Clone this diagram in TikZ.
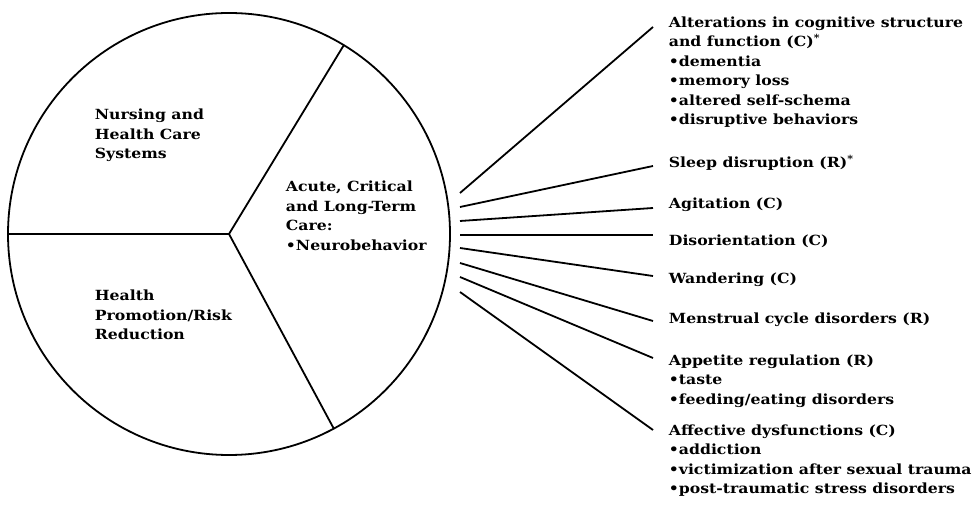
\documentclass[tikz,border=0pt]{standalone}
\usepackage{fontspec}
\setmainfont{DejaVu Serif}[FakeStretch=1.12]
\begin{document}
\begin{tikzpicture}[x=1pt,y=-1pt,line width=1.8pt,
	txt/.style={anchor=north west,align=left,inner sep=0pt,font=\bfseries\fontsize{14}{19.5}\selectfont}]

		\useasboundingbox (0,0) rectangle (975,510);

		\coordinate (c) at (229,234);
		\draw (c) circle (221pt);
		\draw (c) -- ++(180:221pt);
		\draw (c) -- ++(58.7:221pt);
		\draw (c) -- ++(-61.7:221pt);

		\node (nurs) [txt] at (94,108) {Nursing and\\Health Care\\Systems};
		\node (acute) [txt] at (285,180) {Acute, Critical\\and Long-Term\\Care:\\•Neurobehavior};
		\node (prom) [txt] at (94,289) {Health\\Promotion/Risk\\Reduction};

		\node (alt) [txt] at (668,15.5) {Alterations in cognitive structure\\and function (C)\textsuperscript{*}\\•dementia\\•memory loss\\•altered self-schema\\•disruptive behaviors};
		\node (sleep) [txt] at (668,154.5) {Sleep disruption (R)\textsuperscript{*}};
		\node (agit) [txt] at (668,196.5) {Agitation (C)};
		\node (disor) [txt] at (668,233.5) {Disorientation (C)};
		\node (wand) [txt] at (668,271.5) {Wandering (C)};
		\node (menst) [txt] at (668,311.5) {Menstrual cycle disorders (R)};
		\node (appet) [txt] at (668,353.5) {Appetite regulation (R)\\•taste\\•feeding/eating disorders};
		\node (affect) [txt] at (668,423.5) {Affective dysfunctions (C)\\•addiction\\•victimization after sexual trauma\\•post-traumatic stress disorders};

		% fan of lines out of the circle
		\coordinate (s1) at (460,193);
		\coordinate (s2) at (460,207);
		\coordinate (s3) at (460,221);
		\coordinate (s4) at (460,235);
		\coordinate (s5) at (460,248);
		\coordinate (s6) at (460,263);
		\coordinate (s7) at (460,277);
		\coordinate (s8) at (460,292);
		\coordinate (e1) at (653,27);
		\coordinate (e2) at (653,166);
		\coordinate (e3) at (653,208);
		\coordinate (e4) at (653,235);
		\coordinate (e5) at (653,276);
		\coordinate (e6) at (653,321);
		\coordinate (e7) at (653,358);
		\coordinate (e8) at (653,430);

		\draw (s1) to (e1);
		\draw (s2) to (e2);
		\draw (s3) to (e3);
		\draw (s4) to (e4);
		\draw (s5) to (e5);
		\draw (s6) to (e6);
		\draw (s7) to (e7);
		\draw (s8) to (e8);

	\end{tikzpicture}
\end{document}
